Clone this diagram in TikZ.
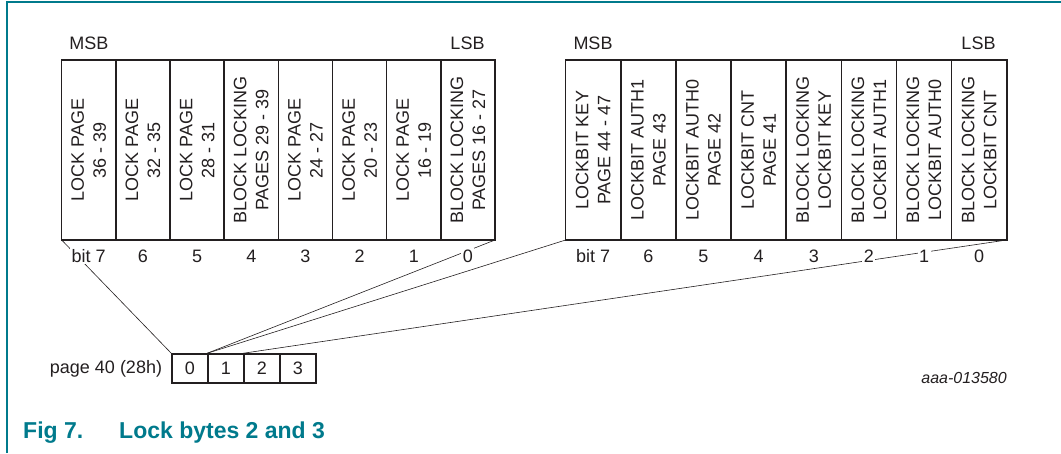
\documentclass[tikz,border=0pt]{standalone}
\usepackage{fontspec}
\setmainfont{Liberation Sans}
\usetikzlibrary{calc}
\definecolor{nxpteal}{RGB}{0,122,140}
\definecolor{inkgray}{RGB}{35,31,32}
\tikzset{
	celltext/.style={rotate=90, align=center, inner sep=0pt, text=inkgray, font=\fontsize{18}{22}\selectfont},
	bitnum/.style={fill=white, inner sep=1.5pt, text=inkgray, font=\fontsize{18}{22}\selectfont},
	endlabel/.style={text=inkgray, font=\fontsize{18}{22}\selectfont},
	pagecell/.style={draw=inkgray, line width=1.5pt, minimum width=36pt, minimum height=29pt, inner sep=0pt, text=inkgray, font=\fontsize{18}{22}\selectfont},
	regline/.style={line width=1.6pt, draw=inkgray},
	link/.style={line width=0.6pt, draw=inkgray}
}

\begin{document}
\begin{tikzpicture}[x=1pt, y=1pt]
		%%%%% START %%%%%
		\useasboundingbox (0, 0) rectangle (1061, 453);
		
		\draw[line width=1.5pt, color=nxpteal] (7, 0) -- (7, 451) -- (1061, 451);
		
		% lock byte 2
		\foreach \txt [count=\i from 0] in {{LOCK PAGE\\36 - 39}, {LOCK PAGE\\32 - 35}, {LOCK PAGE\\28 - 31}, {BLOCK LOCKING\\PAGES 29 - 39}, {LOCK PAGE\\24 - 27}, {LOCK PAGE\\20 - 23}, {LOCK PAGE\\16 - 19}, {BLOCK LOCKING\\PAGES 16 - 27}}{
			\draw[regline] (61.67+54.17*\i, 213) rectangle ++(54.17, 180);
			\node[celltext] (lc\i) at (61.67+54.17*\i+27.08, 303) {\txt};
		}
		
		% lock byte 3
		\foreach \txt [count=\i from 0] in {{LOCKBIT KEY\\PAGE 44 - 47}, {LOCKBIT AUTH1\\PAGE 43}, {LOCKBIT AUTH0\\PAGE 42}, {LOCKBIT CNT\\PAGE 41}, {BLOCK LOCKING\\LOCKBIT KEY}, {BLOCK LOCKING\\LOCKBIT AUTH1}, {BLOCK LOCKING\\LOCKBIT AUTH0}, {BLOCK LOCKING\\LOCKBIT CNT}}{
			\draw[regline] (565.67+55.13*\i, 213) rectangle ++(55.13, 180);
			\node[celltext] (rc\i) at (565.67+55.13*\i+27.56, 303) {\txt};
		}
		
		\node[endlabel] (lmsb) at (89, 410) {MSB};
		\node[endlabel] (llsb) at (467.5, 410) {LSB};
		\node[endlabel] (rmsb) at (593, 410) {MSB};
		\node[endlabel] (rlsb) at (978.5, 410) {LSB};
		
		\coordinate (lsw) at (61.67, 213);
		\coordinate (lse) at (495, 213);
		\coordinate (rsw) at (565.67, 213);
		\coordinate (rse) at (1006.67, 213);
		
		% page 40
		\foreach \b [count=\i from 0] in {0, 1, 2, 3}{
			\node[pagecell] (p\i) at (190+36*\i, 84.5) {\b};
		}
		\node[endlabel, anchor=east, inner sep=0pt] (pglabel) at ($(p0.west)+(-9, 0)$) {page 40 (28h)};
		
		\draw[link] (lsw) -- (p0.north west);
		\draw[link] (lse) -- (p1.north west);
		\draw[link] (rsw) -- (p1.north west);
		\draw[link] (rse) -- (p2.north west);
		
		\foreach \b [count=\i from 0] in {bit 7, 6, 5, 4, 3, 2, 1, 0}{
			\node[bitnum] (lb\i) at (88.75+54.17*\i, 197) {\b};
			\node[bitnum] (rb\i) at (593.23+55.13*\i, 197) {\b};
		}
		
		\node[anchor=base east, inner sep=0pt, text=inkgray, font=\itshape\fontsize{16}{19}\selectfont] (docid) at (1007, 70) {aaa-013580};
		
		\node[anchor=base west, inner sep=0pt, text=nxpteal, font=\bfseries\fontsize{23}{27}\selectfont] (figno) at (23, 15) {Fig 7.};
		\node[anchor=base west, inner sep=0pt, text=nxpteal, font=\bfseries\fontsize{23}{27}\selectfont] (figtitle) at (119, 15) {Lock bytes 2 and 3};
		
		%%%%% END %%%%%
	\end{tikzpicture}
\end{document}
